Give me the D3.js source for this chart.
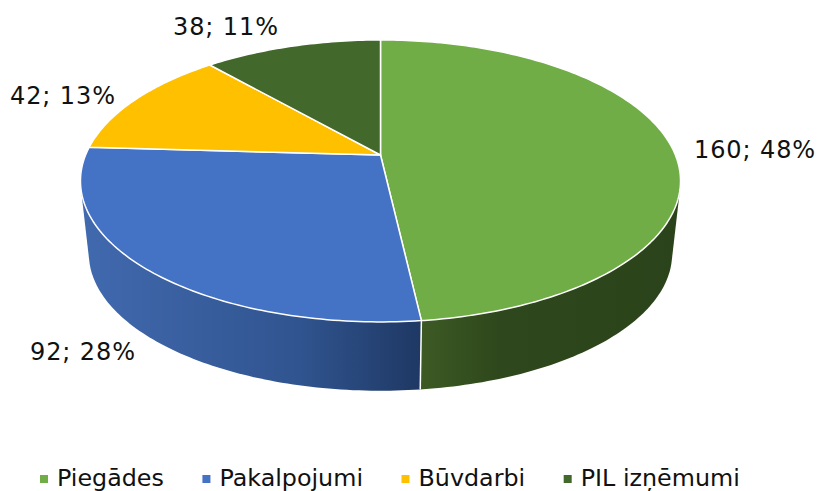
<!DOCTYPE html>
<meta charset="utf-8">
<script src="https://d3js.org/d3.v7.min.js"></script>
<style>
  body { margin: 0; background: #fff; }
  text { font-family: "DejaVu Sans", Verdana, sans-serif; fill: #111; }
</style>
<body>
<div id="chart"></div>
<script>
    const categories = ["Piegādes", "Pakalpojumi", "Būvdarbi", "PIL izņēmumi"];
    const values = [160, 92, 42, 38];
    const percents = [48, 28, 13, 11];
    const colors = ["#70AD47", "#4472C4", "#FFC000", "#43682B"];

    const width = 818, height = 491;

    // label anchors by slice (left x, baseline y)
    const labelPos = [[694, 158], [30, 360], [10, 104], [173, 35]];

    const svg = d3.select("#chart").append("svg")
        .attr("width", width)
        .attr("height", height)
        .style("display", "block");

    const defs = svg.append("defs");

    // perspective of the tilted disc: k shrinks the far side
    const k = -0.184;
    const cx = 380.5, topY = 155, bottomY = 228.5;
    const rimShrink = 0.972;
    const sx = d3.scaleLinear().domain([0, 1]).range([0, 294.9]);
    const sy = d3.scaleLinear().domain([0, 1]).range([0, 136.2]);

    function project(a, r, y0, s) {
        const u = r * Math.sin(a), v = -r * Math.cos(a);
        const w = 1 + k * v;
        return [cx + s * sx(u / w), y0 + s * sy(v / w)];
    }
    const topRim = a => project(a, 1, topY, 1);
    const bottomRim = a => project(a, 1, bottomY, rimShrink);

    const pie = d3.pie().sort(null).value(d => d);
    const slices = pie(values);

    const line = d3.line();
    const step = Math.PI / 180;

    function arcPoints(a0, a1, f) {
        const pts = d3.range(a0, a1, step).map(f);
        pts.push(f(a1));
        return pts;
    }

    // side wall, only the part that faces the viewer
    const wallStart = Math.PI / 2, wallEnd = Math.PI * 1.5;

    const wallGradients = [
        [[421, "#3d5a24"], [500, "#2e471c"], [680, "#2b431a"]],
        [[85, "#4169ae"], [300, "#30548f"], [421, "#1f3864"]]
    ];
    wallGradients.forEach((stops, i) => {
        const g = defs.append("linearGradient")
            .attr("id", "wall" + i)
            .attr("gradientUnits", "userSpaceOnUse")
            .attr("x1", stops[0][0]).attr("x2", stops[stops.length - 1][0])
            .attr("y1", 0).attr("y2", 0);
        stops.forEach(s => {
            g.append("stop")
                .attr("offset", (s[0] - stops[0][0]) / (stops[stops.length - 1][0] - stops[0][0]))
                .attr("stop-color", s[1]);
        });
    });

    // hull of both rims gives the silhouette; the top face hides the inner chord
    const walls = svg.append("g");
    slices.forEach((d, i) => {
        const a0 = Math.max(d.startAngle, wallStart);
        const a1 = Math.min(d.endAngle, wallEnd);
        if (a1 <= a0) return;
        const hull = d3.polygonHull([
            ...arcPoints(a0, a1, topRim),
            ...arcPoints(a0, a1, bottomRim)
        ]);
        walls.append("path")
            .attr("d", line(hull) + "Z")
            .attr("fill", "url(#wall" + i + ")");
    });

    // white seam between the two front walls
    walls.append("path")
        .attr("d", line([topRim(slices[0].endAngle), bottomRim(slices[0].endAngle)]))
        .attr("stroke", "#fff")
        .attr("stroke-width", 1.5)
        .attr("fill", "none");

    // top faces
    svg.append("g").selectAll("path")
        .data(slices)
        .join("path")
        .attr("d", d => line([[cx, topY], ...arcPoints(d.startAngle, d.endAngle, topRim)]) + "Z")
        .attr("fill", (d, i) => colors[i])
        .attr("stroke", "#fff")
        .attr("stroke-width", 1.5)
        .attr("stroke-linejoin", "round");

    // data labels
    svg.append("g").selectAll("text")
        .data(slices)
        .join("text")
        .attr("x", (d, i) => labelPos[i][0])
        .attr("y", (d, i) => labelPos[i][1])
        .style("font-size", "24px")
        .style("letter-spacing", "0.9px")
        .text((d, i) => values[i] + "; " + percents[i] + "%");

    // legend, laid out by measured text width
    const legend = svg.append("g");
    let lx = 40;
    categories.forEach((c, i) => {
        legend.append("rect")
            .attr("x", lx).attr("y", 475)
            .attr("width", 8).attr("height", 8)
            .attr("fill", colors[i]);
        const t = legend.append("text")
            .attr("x", lx + 17).attr("y", 486)
            .style("font-size", "23.8px")
            .text(c);
        lx += 17 + t.node().getComputedTextLength() + 38.5;
    });
</script>
</body>
</html>
